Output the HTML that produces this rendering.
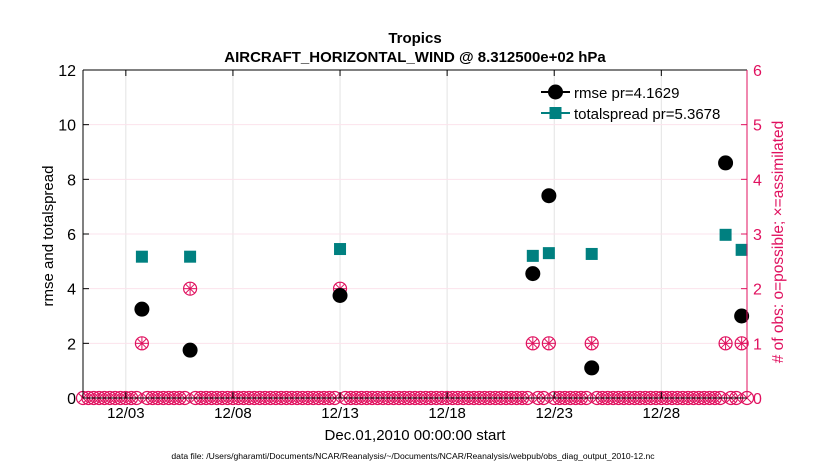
<!DOCTYPE html>
<html><head><meta charset="utf-8"><style>
body{margin:0;background:#fff;font-family:"Liberation Sans",Arial,sans-serif}
svg text{font-family:"Liberation Sans",Arial,sans-serif}
</style></head><body>
<svg id="chart" width="830" height="470" xmlns="http://www.w3.org/2000/svg">
<g id="grid"></g>
<g id="marks"></g>
<g id="axes"></g>
<text x="415" y="43" text-anchor="middle" font-size="15" font-weight="bold">Tropics</text>
<text x="415" y="62" text-anchor="middle" font-size="15" font-weight="bold">AIRCRAFT_HORIZONTAL_WIND @ 8.312500e+02 hPa</text>
<text x="415" y="440" text-anchor="middle" font-size="15">Dec.01,2010 00:00:00 start</text>
<text transform="translate(53,236) rotate(-90)" text-anchor="middle" font-size="15">rmse and totalspread</text>
<text transform="translate(783,242) rotate(-90)" text-anchor="middle" font-size="15.5" fill="#e0115f"># of obs: o=possible; ×=assimilated</text>
<text x="413" y="459" text-anchor="middle" font-size="8.6">data file: /Users/gharamti/Documents/NCAR/Reanalysis/~/Documents/NCAR/Reanalysis/webpub/obs_diag_output_2010-12.nc</text>
<g>
<line x1="541" y1="92" x2="570" y2="92" stroke="#000" stroke-width="2"/>
<circle cx="555.5" cy="92" r="7.5" fill="#000"/>
<text x="574" y="98" font-size="15">rmse pr=4.1629</text>
<line x1="541" y1="113" x2="570" y2="113" stroke="#008080" stroke-width="2"/>
<rect x="549.5" y="107" width="12" height="12" fill="#008080"/>
<text x="574" y="119" font-size="15">totalspread pr=5.3678</text>
</g>
</svg>
<script>
const times=[2.75,5.0,12.0,21.0,21.75,23.75,30.0,30.75];
const rmse=[3.25,1.75,3.75,4.55,7.4,1.1,8.6,3.0];
const spread=[5.17,5.17,5.45,5.2,5.3,5.27,5.97,5.42];
const possible=[1,2,2,1,1,1,1,1];
const assimilated=[1,2,2,1,1,1,1,1];
const xTickDays=[2,7,12,17,22,27];
const xTickLabels=["12/03","12/08","12/13","12/18","12/23","12/28"];
const yTicks=[0,2,4,6,8,10,12];
const y2Ticks=[0,1,2,3,4,5,6];

const L=83,R=747,T=70,B=398,NS="http://www.w3.org/2000/svg",RED="#e0115f";
const xs=d=>L+(R-L)*d/31;
const ys=v=>B-(B-T)*v/12;
const y2s=v=>B-(B-T)*v/6;
function mk(tag,attrs,parent){const e=document.createElementNS(NS,tag);for(const k in attrs)e.setAttribute(k,attrs[k]);document.getElementById(parent).appendChild(e);return e;}
xTickDays.forEach((d,i)=>{
 const g=mk('line',{x1:xs(d),x2:xs(d),y1:T,y2:B,stroke:"#e3e3e3","stroke-width":1},'grid');
 
 
 mk('line',{x1:xs(d),x2:xs(d),y1:B,y2:B-6,stroke:"#000"},'axes');
 mk('line',{x1:xs(d),x2:xs(d),y1:T,y2:T+6,stroke:"#000"},'axes');
 const t=mk('text',{x:xs(d),y:B+20,"text-anchor":"middle","font-size":15},'axes');
 t.textContent=xTickLabels[i];
 
 
});
y2Ticks.forEach(v=>{
 if(v>0&&v<6){const g=mk('line',{x1:L,x2:R,y1:y2s(v),y2:y2s(v),stroke:"#fbe3ec","stroke-width":1},'grid');
 
 }
 mk('line',{x1:R,x2:R-6,y1:y2s(v),y2:y2s(v),stroke:RED},'axes');
 const t=mk('text',{x:R+6,y:y2s(v)+6,"font-size":16,fill:RED},'axes');
 t.textContent=v;
 
 
});
yTicks.forEach(v=>{
 mk('line',{x1:L,x2:L+6,y1:ys(v),y2:ys(v),stroke:"#000"},'axes');
 const t=mk('text',{x:L-7,y:ys(v)+6,"text-anchor":"end","font-size":16},'axes');
 t.textContent=v;
 
 
});
mk('line',{x1:L,x2:R,y1:T,y2:T,stroke:"#000"},'axes');
mk('line',{x1:L,x2:R,y1:B,y2:B,stroke:"#000"},'axes');
mk('line',{x1:L,x2:L,y1:T,y2:B,stroke:"#000"},'axes');
mk('line',{x1:R,x2:R,y1:T,y2:B,stroke:RED},'axes');

function obsMarker(cx,cy,star,name){
 const g=mk('g',{},'marks');
 
 
 const r=6.5;
 const c=document.createElementNS(NS,'circle');c.setAttribute('cx',cx);c.setAttribute('cy',cy);c.setAttribute('r',r);c.setAttribute('fill','none');c.setAttribute('stroke',RED);c.setAttribute('stroke-width',1.2);g.appendChild(c);
 const n=star?4:2, off=star?0:Math.PI/4;
 for(let k=0;k<n;k++){const a=off+k*Math.PI/n;const l=document.createElementNS(NS,'line');
  l.setAttribute('x1',cx-r*Math.cos(a));l.setAttribute('y1',cy-r*Math.sin(a));l.setAttribute('x2',cx+r*Math.cos(a));l.setAttribute('y2',cy+r*Math.sin(a));l.setAttribute('stroke',RED);l.setAttribute('stroke-width',1);g.appendChild(l);}
}
for(let q=0;q<=124;q++){
 const d=q/4;
 if(times.some(t=>Math.abs(t-d)<1e-6))continue;
 obsMarker(xs(d),y2s(0),false,'obs-zero-marker');
}
times.forEach((d,i)=>{
 obsMarker(xs(d),y2s(possible[i]),assimilated[i]>0,'obs-count-marker');
 const s=mk('rect',{x:xs(d)-6,y:ys(spread[i])-6,width:12,height:12,fill:"#008080"},'marks');
 
 
 const c=mk('circle',{cx:xs(d),cy:ys(rmse[i]),r:7.5,fill:"#000"},'marks');
 
 
});
</script>
</body></html>
